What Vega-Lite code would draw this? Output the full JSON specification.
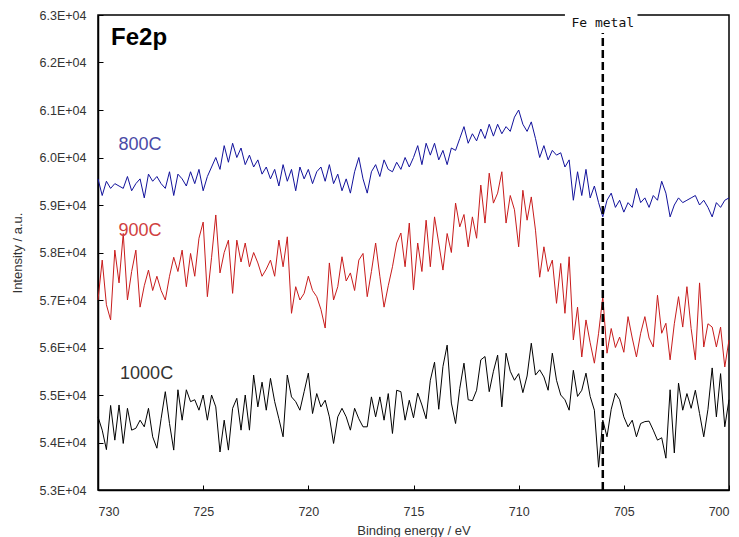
{
"$schema":"https://vega.github.io/schema/vega-lite/v6.json",
"width":631,"height":475,
"autosize":{"type":"none"},
"padding":{"left":98,"top":15,"right":10,"bottom":47},
"background":"white",
"config":{
 "view":{"stroke":"black","strokeWidth":1.5},
 "axis":{"domainColor":"black","domainWidth":1.5,"tickColor":"black","tickWidth":1,"tickSize":-5,"grid":false,"labelFont":"Liberation Sans","labelFontSize":12.5,"labelColor":"#333","titleFont":"Liberation Sans","titleFontSize":13,"titleFontWeight":"normal","titleColor":"#333"},
 "axisX":{"labelPadding":20,"titlePadding":7},
 "axisY":{"labelPadding":17,"titlePadding":15}
},
"layer":[
{"data":{"values":[
{"e":730,"s":"800C","v":59550},{"e":729.8,"s":"800C","v":59200},{"e":729.6,"s":"800C","v":59500},{"e":729.4,"s":"800C","v":59350},{"e":729.2,"s":"800C","v":59450},
{"e":729,"s":"800C","v":59400},{"e":728.8,"s":"800C","v":59350},{"e":728.6,"s":"800C","v":59600},{"e":728.4,"s":"800C","v":59300},{"e":728.2,"s":"800C","v":59450},
{"e":728,"s":"800C","v":59550},{"e":727.8,"s":"800C","v":59150},{"e":727.6,"s":"800C","v":59650},{"e":727.4,"s":"800C","v":59500},{"e":727.2,"s":"800C","v":59600},
{"e":727,"s":"800C","v":59450},{"e":726.8,"s":"800C","v":59350},{"e":726.6,"s":"800C","v":59700},{"e":726.4,"s":"800C","v":59200},{"e":726.2,"s":"800C","v":59650},
{"e":726,"s":"800C","v":59550},{"e":725.8,"s":"800C","v":59400},{"e":725.6,"s":"800C","v":59700},{"e":725.4,"s":"800C","v":59450},{"e":725.2,"s":"800C","v":59750},
{"e":725,"s":"800C","v":59300},{"e":724.8,"s":"800C","v":59600},{"e":724.6,"s":"800C","v":59800},{"e":724.4,"s":"800C","v":60000},{"e":724.2,"s":"800C","v":59750},
{"e":724,"s":"800C","v":60250},{"e":723.8,"s":"800C","v":59900},{"e":723.6,"s":"800C","v":60300},{"e":723.4,"s":"800C","v":60000},{"e":723.2,"s":"800C","v":60200},
{"e":723,"s":"800C","v":59850},{"e":722.8,"s":"800C","v":60050},{"e":722.6,"s":"800C","v":59800},{"e":722.4,"s":"800C","v":59950},{"e":722.2,"s":"800C","v":59650},
{"e":722,"s":"800C","v":59800},{"e":721.8,"s":"800C","v":59550},{"e":721.6,"s":"800C","v":59750},{"e":721.4,"s":"800C","v":59400},{"e":721.2,"s":"800C","v":59850},
{"e":721,"s":"800C","v":59500},{"e":720.8,"s":"800C","v":59750},{"e":720.6,"s":"800C","v":59300},{"e":720.4,"s":"800C","v":59800},{"e":720.2,"s":"800C","v":59550},
{"e":720,"s":"800C","v":59750},{"e":719.8,"s":"800C","v":59450},{"e":719.6,"s":"800C","v":59700},{"e":719.4,"s":"800C","v":59800},{"e":719.2,"s":"800C","v":59500},
{"e":719,"s":"800C","v":59850},{"e":718.8,"s":"800C","v":59450},{"e":718.6,"s":"800C","v":59650},{"e":718.4,"s":"800C","v":59300},{"e":718.2,"s":"800C","v":59550},
{"e":718,"s":"800C","v":59250},{"e":717.8,"s":"800C","v":59700},{"e":717.6,"s":"800C","v":60000},{"e":717.4,"s":"800C","v":59550},{"e":717.2,"s":"800C","v":59250},
{"e":717,"s":"800C","v":59700},{"e":716.8,"s":"800C","v":59850},{"e":716.6,"s":"800C","v":59600},{"e":716.4,"s":"800C","v":59950},{"e":716.2,"s":"800C","v":59750},
{"e":716,"s":"800C","v":59700},{"e":715.8,"s":"800C","v":59900},{"e":715.6,"s":"800C","v":59750},{"e":715.4,"s":"800C","v":60000},{"e":715.2,"s":"800C","v":59800},
{"e":715,"s":"800C","v":60000},{"e":714.8,"s":"800C","v":60250},{"e":714.6,"s":"800C","v":59850},{"e":714.4,"s":"800C","v":60300},{"e":714.2,"s":"800C","v":60050},
{"e":714,"s":"800C","v":60300},{"e":713.8,"s":"800C","v":59950},{"e":713.6,"s":"800C","v":60150},{"e":713.4,"s":"800C","v":59850},{"e":713.2,"s":"800C","v":60200},
{"e":713,"s":"800C","v":60150},{"e":712.8,"s":"800C","v":60400},{"e":712.6,"s":"800C","v":60650},{"e":712.4,"s":"800C","v":60300},{"e":712.2,"s":"800C","v":60500},
{"e":712,"s":"800C","v":60350},{"e":711.8,"s":"800C","v":60600},{"e":711.6,"s":"800C","v":60400},{"e":711.4,"s":"800C","v":60700},{"e":711.2,"s":"800C","v":60450},
{"e":711,"s":"800C","v":60700},{"e":710.8,"s":"800C","v":60500},{"e":710.6,"s":"800C","v":60650},{"e":710.4,"s":"800C","v":60550},{"e":710.2,"s":"800C","v":60850},
{"e":710,"s":"800C","v":61000},{"e":709.8,"s":"800C","v":60700},{"e":709.6,"s":"800C","v":60550},{"e":709.4,"s":"800C","v":60750},{"e":709.2,"s":"800C","v":60400},
{"e":709,"s":"800C","v":60000},{"e":708.8,"s":"800C","v":60250},{"e":708.6,"s":"800C","v":59950},{"e":708.4,"s":"800C","v":60150},{"e":708.2,"s":"800C","v":60050},
{"e":708,"s":"800C","v":60100},{"e":707.8,"s":"800C","v":59800},{"e":707.6,"s":"800C","v":59950},{"e":707.4,"s":"800C","v":59100},{"e":707.2,"s":"800C","v":59700},
{"e":707,"s":"800C","v":59200},{"e":706.8,"s":"800C","v":59750},{"e":706.6,"s":"800C","v":59150},{"e":706.4,"s":"800C","v":59400},{"e":706.2,"s":"800C","v":59050},
{"e":706,"s":"800C","v":58750},{"e":705.8,"s":"800C","v":59100},{"e":705.6,"s":"800C","v":59250},{"e":705.4,"s":"800C","v":58950},{"e":705.2,"s":"800C","v":59100},
{"e":705,"s":"800C","v":58850},{"e":704.8,"s":"800C","v":59050},{"e":704.6,"s":"800C","v":58950},{"e":704.4,"s":"800C","v":59350},{"e":704.2,"s":"800C","v":59050},
{"e":704,"s":"800C","v":59150},{"e":703.8,"s":"800C","v":58950},{"e":703.6,"s":"800C","v":59200},{"e":703.4,"s":"800C","v":59100},{"e":703.2,"s":"800C","v":59500},
{"e":703,"s":"800C","v":59250},{"e":702.8,"s":"800C","v":58750},{"e":702.6,"s":"800C","v":59000},{"e":702.4,"s":"800C","v":59150},{"e":702.2,"s":"800C","v":59050},
{"e":702,"s":"800C","v":59100},{"e":701.8,"s":"800C","v":59150},{"e":701.6,"s":"800C","v":59200},{"e":701.4,"s":"800C","v":59000},{"e":701.2,"s":"800C","v":59100},
{"e":701,"s":"800C","v":58950},{"e":700.8,"s":"800C","v":58750},{"e":700.6,"s":"800C","v":59050},{"e":700.4,"s":"800C","v":58950},{"e":700.2,"s":"800C","v":59100},
{"e":700,"s":"800C","v":59150},
{"e":730,"s":"900C","v":57000},{"e":729.8,"s":"900C","v":57840},{"e":729.6,"s":"900C","v":56900},{"e":729.4,"s":"900C","v":56580},{"e":729.2,"s":"900C","v":58050},
{"e":729,"s":"900C","v":57360},{"e":728.8,"s":"900C","v":58400},{"e":728.6,"s":"900C","v":57000},{"e":728.4,"s":"900C","v":57600},{"e":728.2,"s":"900C","v":58050},
{"e":728,"s":"900C","v":56850},{"e":727.8,"s":"900C","v":57300},{"e":727.6,"s":"900C","v":57630},{"e":727.4,"s":"900C","v":57200},{"e":727.2,"s":"900C","v":57500},
{"e":727,"s":"900C","v":57200},{"e":726.8,"s":"900C","v":57000},{"e":726.6,"s":"900C","v":57500},{"e":726.4,"s":"900C","v":57900},{"e":726.2,"s":"900C","v":57600},
{"e":726,"s":"900C","v":58050},{"e":725.8,"s":"900C","v":57280},{"e":725.6,"s":"900C","v":57980},{"e":725.4,"s":"900C","v":57500},{"e":725.2,"s":"900C","v":58300},
{"e":725,"s":"900C","v":58640},{"e":724.8,"s":"900C","v":57070},{"e":724.6,"s":"900C","v":57900},{"e":724.4,"s":"900C","v":58790},{"e":724.2,"s":"900C","v":57570},
{"e":724,"s":"900C","v":58000},{"e":723.8,"s":"900C","v":58260},{"e":723.6,"s":"900C","v":57140},{"e":723.4,"s":"900C","v":58260},{"e":723.2,"s":"900C","v":57800},
{"e":723,"s":"900C","v":58200},{"e":722.8,"s":"900C","v":57700},{"e":722.6,"s":"900C","v":58000},{"e":722.4,"s":"900C","v":57780},{"e":722.2,"s":"900C","v":57500},
{"e":722,"s":"900C","v":57650},{"e":721.8,"s":"900C","v":57840},{"e":721.6,"s":"900C","v":57500},{"e":721.4,"s":"900C","v":58260},{"e":721.2,"s":"900C","v":57700},
{"e":721,"s":"900C","v":58330},{"e":720.8,"s":"900C","v":56720},{"e":720.6,"s":"900C","v":57280},{"e":720.4,"s":"900C","v":57000},{"e":720.2,"s":"900C","v":57140},
{"e":720,"s":"900C","v":57500},{"e":719.8,"s":"900C","v":57200},{"e":719.6,"s":"900C","v":57070},{"e":719.4,"s":"900C","v":56800},{"e":719.2,"s":"900C","v":56410},
{"e":719,"s":"900C","v":57780},{"e":718.8,"s":"900C","v":57000},{"e":718.6,"s":"900C","v":57280},{"e":718.4,"s":"900C","v":57910},{"e":718.2,"s":"900C","v":57400},
{"e":718,"s":"900C","v":57570},{"e":717.8,"s":"900C","v":57200},{"e":717.6,"s":"900C","v":57840},{"e":717.4,"s":"900C","v":57980},{"e":717.2,"s":"900C","v":57070},
{"e":717,"s":"900C","v":57600},{"e":716.8,"s":"900C","v":58200},{"e":716.6,"s":"900C","v":57500},{"e":716.4,"s":"900C","v":56850},{"e":716.2,"s":"900C","v":57300},
{"e":716,"s":"900C","v":57700},{"e":715.8,"s":"900C","v":58200},{"e":715.6,"s":"900C","v":58410},{"e":715.4,"s":"900C","v":57700},{"e":715.2,"s":"900C","v":58620},
{"e":715,"s":"900C","v":57210},{"e":714.8,"s":"900C","v":58200},{"e":714.6,"s":"900C","v":57600},{"e":714.4,"s":"900C","v":58680},{"e":714.2,"s":"900C","v":57700},
{"e":714,"s":"900C","v":58750},{"e":713.8,"s":"900C","v":58200},{"e":713.6,"s":"900C","v":57630},{"e":713.4,"s":"900C","v":58400},{"e":713.2,"s":"900C","v":58000},
{"e":713,"s":"900C","v":59040},{"e":712.8,"s":"900C","v":58540},{"e":712.6,"s":"900C","v":58800},{"e":712.4,"s":"900C","v":58120},{"e":712.2,"s":"900C","v":58750},
{"e":712,"s":"900C","v":58300},{"e":711.8,"s":"900C","v":59420},{"e":711.6,"s":"900C","v":58620},{"e":711.4,"s":"900C","v":59670},{"e":711.2,"s":"900C","v":59040},
{"e":711,"s":"900C","v":59250},{"e":710.8,"s":"900C","v":59700},{"e":710.6,"s":"900C","v":58620},{"e":710.4,"s":"900C","v":59200},{"e":710.2,"s":"900C","v":58900},
{"e":710,"s":"900C","v":58120},{"e":709.8,"s":"900C","v":59310},{"e":709.6,"s":"900C","v":58680},{"e":709.4,"s":"900C","v":59170},{"e":709.2,"s":"900C","v":58470},
{"e":709,"s":"900C","v":57480},{"e":708.8,"s":"900C","v":58120},{"e":708.6,"s":"900C","v":57600},{"e":708.4,"s":"900C","v":57840},{"e":708.2,"s":"900C","v":56930},
{"e":708,"s":"900C","v":57770},{"e":707.8,"s":"900C","v":56720},{"e":707.6,"s":"900C","v":57910},{"e":707.4,"s":"900C","v":56160},{"e":707.2,"s":"900C","v":56850},
{"e":707,"s":"900C","v":55800},{"e":706.8,"s":"900C","v":56580},{"e":706.6,"s":"900C","v":56100},{"e":706.4,"s":"900C","v":55670},{"e":706.2,"s":"900C","v":56300},
{"e":706,"s":"900C","v":57070},{"e":705.8,"s":"900C","v":55880},{"e":705.6,"s":"900C","v":56400},{"e":705.4,"s":"900C","v":56000},{"e":705.2,"s":"900C","v":56220},
{"e":705,"s":"900C","v":55900},{"e":704.8,"s":"900C","v":56650},{"e":704.6,"s":"900C","v":56200},{"e":704.4,"s":"900C","v":55800},{"e":704.2,"s":"900C","v":56300},
{"e":704,"s":"900C","v":56650},{"e":703.8,"s":"900C","v":56200},{"e":703.6,"s":"900C","v":56010},{"e":703.4,"s":"900C","v":57100},{"e":703.2,"s":"900C","v":56300},
{"e":703,"s":"900C","v":56510},{"e":702.8,"s":"900C","v":55740},{"e":702.6,"s":"900C","v":56500},{"e":702.4,"s":"900C","v":57070},{"e":702.2,"s":"900C","v":56430},
{"e":702,"s":"900C","v":57280},{"e":701.8,"s":"900C","v":56400},{"e":701.6,"s":"900C","v":55740},{"e":701.4,"s":"900C","v":57360},{"e":701.2,"s":"900C","v":56010},
{"e":701,"s":"900C","v":56500},{"e":700.8,"s":"900C","v":56430},{"e":700.6,"s":"900C","v":56010},{"e":700.4,"s":"900C","v":56430},{"e":700.2,"s":"900C","v":55590},
{"e":700,"s":"900C","v":56160},
{"e":730,"s":"1000C","v":54540},{"e":729.8,"s":"1000C","v":54260},{"e":729.6,"s":"1000C","v":53850},{"e":729.4,"s":"1000C","v":54780},{"e":729.2,"s":"1000C","v":54050},
{"e":729,"s":"1000C","v":54790},{"e":728.8,"s":"1000C","v":53980},{"e":728.6,"s":"1000C","v":54720},{"e":728.4,"s":"1000C","v":54260},{"e":728.2,"s":"1000C","v":54300},
{"e":728,"s":"1000C","v":54470},{"e":727.8,"s":"1000C","v":54330},{"e":727.6,"s":"1000C","v":54720},{"e":727.4,"s":"1000C","v":54120},{"e":727.2,"s":"1000C","v":53880},
{"e":727,"s":"1000C","v":54500},{"e":726.8,"s":"1000C","v":55070},{"e":726.6,"s":"1000C","v":54400},{"e":726.4,"s":"1000C","v":53840},{"e":726.2,"s":"1000C","v":55110},
{"e":726,"s":"1000C","v":54470},{"e":725.8,"s":"1000C","v":55110},{"e":725.6,"s":"1000C","v":54860},{"e":725.4,"s":"1000C","v":54900},{"e":725.2,"s":"1000C","v":54680},
{"e":725,"s":"1000C","v":55000},{"e":724.8,"s":"1000C","v":54470},{"e":724.6,"s":"1000C","v":55000},{"e":724.4,"s":"1000C","v":54750},{"e":724.2,"s":"1000C","v":53800},
{"e":724,"s":"1000C","v":54470},{"e":723.8,"s":"1000C","v":53840},{"e":723.6,"s":"1000C","v":54720},{"e":723.4,"s":"1000C","v":54930},{"e":723.2,"s":"1000C","v":54260},
{"e":723,"s":"1000C","v":55000},{"e":722.8,"s":"1000C","v":54260},{"e":722.6,"s":"1000C","v":55420},{"e":722.4,"s":"1000C","v":54750},{"e":722.2,"s":"1000C","v":55270},
{"e":722,"s":"1000C","v":54680},{"e":721.8,"s":"1000C","v":55350},{"e":721.6,"s":"1000C","v":54860},{"e":721.4,"s":"1000C","v":54500},{"e":721.2,"s":"1000C","v":54120},
{"e":721,"s":"1000C","v":55420},{"e":720.8,"s":"1000C","v":54960},{"e":720.6,"s":"1000C","v":54860},{"e":720.4,"s":"1000C","v":54680},{"e":720.2,"s":"1000C","v":55070},
{"e":720,"s":"1000C","v":55460},{"e":719.8,"s":"1000C","v":54610},{"e":719.6,"s":"1000C","v":55030},{"e":719.4,"s":"1000C","v":54750},{"e":719.2,"s":"1000C","v":54890},
{"e":719,"s":"1000C","v":54540},{"e":718.8,"s":"1000C","v":53980},{"e":718.6,"s":"1000C","v":54540},{"e":718.4,"s":"1000C","v":54720},{"e":718.2,"s":"1000C","v":54540},
{"e":718,"s":"1000C","v":54260},{"e":717.8,"s":"1000C","v":54720},{"e":717.6,"s":"1000C","v":54500},{"e":717.4,"s":"1000C","v":54330},{"e":717.2,"s":"1000C","v":54330},
{"e":717,"s":"1000C","v":54960},{"e":716.8,"s":"1000C","v":54540},{"e":716.6,"s":"1000C","v":54960},{"e":716.4,"s":"1000C","v":54470},{"e":716.2,"s":"1000C","v":55030},
{"e":716,"s":"1000C","v":54190},{"e":715.8,"s":"1000C","v":55100},{"e":715.6,"s":"1000C","v":55070},{"e":715.4,"s":"1000C","v":54470},{"e":715.2,"s":"1000C","v":54890},
{"e":715,"s":"1000C","v":54520},{"e":714.8,"s":"1000C","v":55040},{"e":714.6,"s":"1000C","v":54790},{"e":714.4,"s":"1000C","v":54500},{"e":714.2,"s":"1000C","v":55310},
{"e":714,"s":"1000C","v":55690},{"e":713.8,"s":"1000C","v":54700},{"e":713.6,"s":"1000C","v":55600},{"e":713.4,"s":"1000C","v":56050},{"e":713.2,"s":"1000C","v":54830},
{"e":713,"s":"1000C","v":54400},{"e":712.8,"s":"1000C","v":55140},{"e":712.6,"s":"1000C","v":55670},{"e":712.4,"s":"1000C","v":54900},{"e":712.2,"s":"1000C","v":54880},
{"e":712,"s":"1000C","v":55100},{"e":711.8,"s":"1000C","v":55740},{"e":711.6,"s":"1000C","v":55810},{"e":711.4,"s":"1000C","v":55070},{"e":711.2,"s":"1000C","v":55500},
{"e":711,"s":"1000C","v":55840},{"e":710.8,"s":"1000C","v":54750},{"e":710.6,"s":"1000C","v":55880},{"e":710.4,"s":"1000C","v":55500},{"e":710.2,"s":"1000C","v":55310},
{"e":710,"s":"1000C","v":55450},{"e":709.8,"s":"1000C","v":55050},{"e":709.6,"s":"1000C","v":55400},{"e":709.4,"s":"1000C","v":56090},{"e":709.2,"s":"1000C","v":55420},
{"e":709,"s":"1000C","v":55530},{"e":708.8,"s":"1000C","v":55380},{"e":708.6,"s":"1000C","v":55100},{"e":708.4,"s":"1000C","v":55880},{"e":708.2,"s":"1000C","v":55310},
{"e":708,"s":"1000C","v":55000},{"e":707.8,"s":"1000C","v":54900},{"e":707.6,"s":"1000C","v":54680},{"e":707.4,"s":"1000C","v":55520},{"e":707.2,"s":"1000C","v":54970},
{"e":707,"s":"1000C","v":55100},{"e":706.8,"s":"1000C","v":55460},{"e":706.6,"s":"1000C","v":54970},{"e":706.4,"s":"1000C","v":54680},{"e":706.2,"s":"1000C","v":53480},
{"e":706,"s":"1000C","v":54470},{"e":705.8,"s":"1000C","v":54120},{"e":705.6,"s":"1000C","v":54700},{"e":705.4,"s":"1000C","v":55040},{"e":705.2,"s":"1000C","v":54900},
{"e":705,"s":"1000C","v":54540},{"e":704.8,"s":"1000C","v":54330},{"e":704.6,"s":"1000C","v":54470},{"e":704.4,"s":"1000C","v":54120},{"e":704.2,"s":"1000C","v":54400},
{"e":704,"s":"1000C","v":54440},{"e":703.8,"s":"1000C","v":54450},{"e":703.6,"s":"1000C","v":54260},{"e":703.4,"s":"1000C","v":54050},{"e":703.2,"s":"1000C","v":54100},
{"e":703,"s":"1000C","v":53670},{"e":702.8,"s":"1000C","v":55110},{"e":702.6,"s":"1000C","v":53780},{"e":702.4,"s":"1000C","v":55250},{"e":702.2,"s":"1000C","v":54680},
{"e":702,"s":"1000C","v":55030},{"e":701.8,"s":"1000C","v":54720},{"e":701.6,"s":"1000C","v":55100},{"e":701.4,"s":"1000C","v":54610},{"e":701.2,"s":"1000C","v":54120},
{"e":701,"s":"1000C","v":54700},{"e":700.8,"s":"1000C","v":55570},{"e":700.6,"s":"1000C","v":54540},{"e":700.4,"s":"1000C","v":55450},{"e":700.2,"s":"1000C","v":54330},
{"e":700,"s":"1000C","v":54900}
]},
"mark":{"type":"line","strokeWidth":1},
"encoding":{
 "x":{"field":"e","type":"quantitative","scale":{"domain":[700,730],"reverse":true,"nice":false,"zero":false},"axis":{"title":"Binding energy / eV","values":[730,725,720,715,710,705,700],"format":"d"}},
 "y":{"field":"v","type":"quantitative","scale":{"domain":[53000,63000],"nice":false,"zero":false},"axis":{"title":"Intensity / a.u.","values":[53000,54000,55000,56000,57000,58000,59000,60000,61000,62000,63000],"labelExpr":"format(datum.value/10000,'.1f')+'E+04'"}},
 "color":{"field":"s","type":"nominal","scale":{"domain":["800C","900C","1000C"],"range":["#12129c","#c81c1c","#000000"]},"legend":null}
}},
{"data":{"values":[{"e":706,"lo":53000,"hi":62620}]},
 "mark":{"type":"rule","strokeDash":[8,4],"strokeWidth":2.5,"color":"black"},
 "encoding":{"x":{"field":"e","type":"quantitative"},"y":{"field":"lo","type":"quantitative"},"y2":{"field":"hi"}}},
{"data":{"values":[{"e1":707.8,"e2":704.35,"y1":62850,"y2":63150}]},
 "mark":{"type":"rect","fill":"white","stroke":null},
 "encoding":{"x":{"field":"e1","type":"quantitative"},"x2":{"field":"e2"},"y":{"field":"y1","type":"quantitative"},"y2":{"field":"y2"}}},
{"data":{"values":[{"e":706,"v":62842,"t":"Fe metal"}]},
 "mark":{"type":"text","font":"DejaVu Sans Mono","fontSize":13,"baseline":"middle","align":"center","color":"#111"},
 "encoding":{"x":{"field":"e","type":"quantitative"},"y":{"field":"v","type":"quantitative"},"text":{"field":"t"}}},
{"data":{"values":[{"e":729.38,"v":62368,"t":"Fe2p"}]},
 "mark":{"type":"text","font":"Liberation Sans","fontSize":24,"fontWeight":"bold","baseline":"alphabetic","align":"left","color":"#000"},
 "encoding":{"x":{"field":"e","type":"quantitative"},"y":{"field":"v","type":"quantitative"},"text":{"field":"t"}}},
{"data":{"values":[{"e":729.03,"v":60158,"t":"800C","c":"#4a4aa6"},{"e":729.03,"v":58347,"t":"900C","c":"#d04040"},{"e":728.95,"v":55330,"t":"1000C","c":"#333333"}]},
 "mark":{"type":"text","font":"Liberation Sans","fontSize":18,"baseline":"alphabetic","align":"left"},
 "encoding":{"x":{"field":"e","type":"quantitative"},"y":{"field":"v","type":"quantitative"},"text":{"field":"t"},"color":{"field":"c","type":"nominal","scale":null}}}
]
}
